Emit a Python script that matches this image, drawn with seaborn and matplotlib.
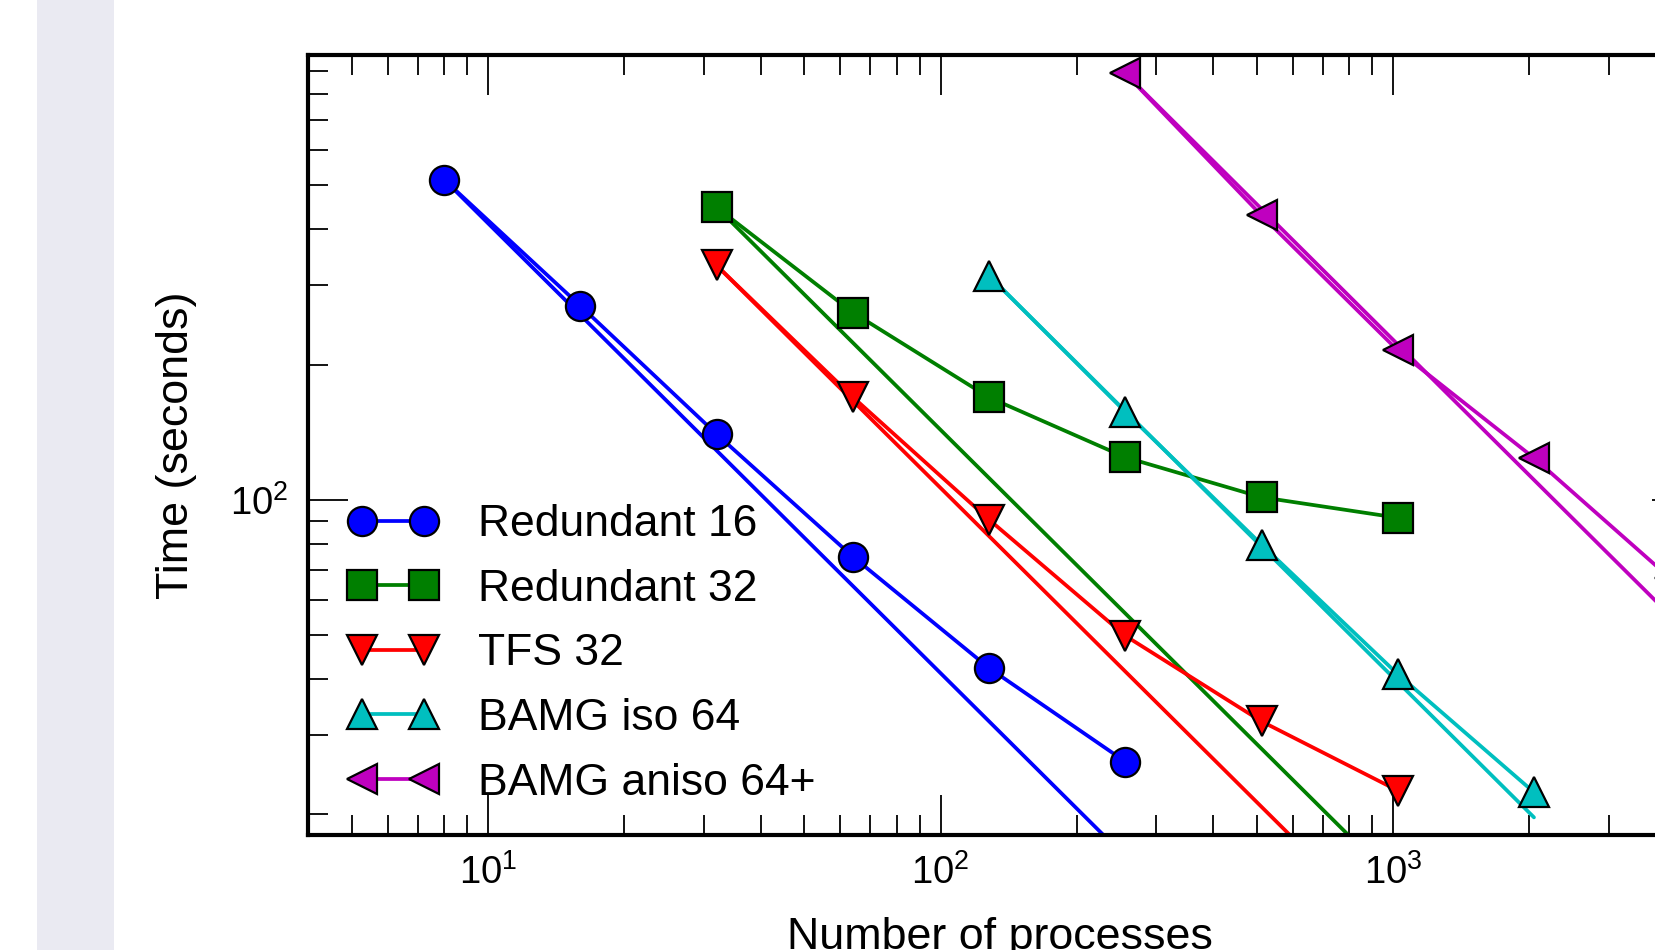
import numpy as np
import pandas as pd
import matplotlib
matplotlib.use("Agg")
import matplotlib.pyplot as plt
from matplotlib.patches import Rectangle
from matplotlib.ticker import LogLocator, NullFormatter
import seaborn as sns

# ---- data ----
x_red16 = [8, 16, 32, 64, 128, 256]
t_red16 = [515, 270, 140, 74.8, 42.3, 26.2]

x_red32 = [32, 64, 128, 256, 512, 1024]
t_red32 = [447, 261, 169, 124.4, 101.4, 91.3]

x_tfs32 = [32, 64, 128, 256, 512, 1024]
t_tfs32 = [332, 169.3, 90.4, 49.9, 32.2, 22.6]

x_iso64 = [128, 256, 512, 1024, 2048]
t_iso64 = [315, 157, 79.6, 41.0, 22.4]

x_aniso = [256, 512, 1024, 2048, 4096]
t_aniso = [887, 429, 215, 124, 67]

# ideal-scaling reference lines: (start x, end x) and (start time, end time)
ideal_red16 = ([8, 256], [515, 16.1])
ideal_red32 = ([32, 1024], [447, 14.0])
ideal_tfs32 = ([32, 1024], [332, 10.4])
ideal_iso64 = ([128, 2048], [315, 19.7])
ideal_aniso = ([256, 4096], [887, 55.4])

labels = ["Redundant 16", "Redundant 32", "TFS 32", "BAMG iso 64", "BAMG aniso 64+"]
colors = ["#0000FF", "#007F00", "#FF0000", "#00BFBF", "#BF00BF"]
markers = ["o", "s", "v", "^", "<"]

series = [(x_red16, t_red16), (x_red32, t_red32), (x_tfs32, t_tfs32),
          (x_iso64, t_iso64), (x_aniso, t_aniso)]
ideals = [ideal_red16, ideal_red32, ideal_tfs32, ideal_iso64, ideal_aniso]

# ---- style ----
sns.set_theme(style="ticks")
plt.rcParams["font.family"] = ["Liberation Sans", "DejaVu Sans"]
plt.rcParams["mathtext.default"] = "regular"
plt.rcParams["text.color"] = "black"
plt.rcParams["axes.labelcolor"] = "black"
plt.rcParams["xtick.color"] = "black"
plt.rcParams["ytick.color"] = "black"

fig = plt.figure(figsize=(16.56, 9.5), dpi=100)
fig.patch.set_facecolor("white")
fig.patches.append(Rectangle((37 / 1656, 0), (114 - 37) / 1656, 1,
                             transform=fig.transFigure, facecolor="#EAEAF2",
                             edgecolor="none", zorder=-10))

ax = fig.add_axes([308 / 1656, 115 / 950, 1384 / 1656, 780 / 950])
ax.set_xscale("log")
ax.set_yscale("log")

# ideal lines first (no markers)
for (ix, iy), c in zip(ideals, colors):
    df = pd.DataFrame({"x": ix, "y": iy})
    sns.lineplot(data=df, x="x", y="y", ax=ax, color=c, lw=2.7,
                 legend=False, sort=False, zorder=2)

# data lines with markers
for (sx, sy), c, m, lab in zip(series, colors, markers, labels):
    df = pd.DataFrame({"x": sx, "y": sy})
    sns.lineplot(data=df, x="x", y="y", ax=ax, color=c, lw=2.7,
                 marker=m, markersize=21, markeredgecolor="black",
                 markeredgewidth=1.6, markerfacecolor=c, label=lab,
                 sort=False, zorder=3)

ax.set_xlim(4, 4577)
ax.set_ylim(18, 975)

ax.xaxis.set_major_locator(LogLocator(base=10))
ax.xaxis.set_minor_locator(LogLocator(base=10, subs=np.arange(2, 10)))
ax.yaxis.set_major_locator(LogLocator(base=10))
ax.yaxis.set_minor_locator(LogLocator(base=10, subs=np.arange(2, 10)))
ax.xaxis.set_minor_formatter(NullFormatter())
ax.yaxis.set_minor_formatter(NullFormatter())

ax.tick_params(which="both", direction="in", top=True, right=True,
               colors="black", labelcolor="black", width=1.3, pad=14,
               labelsize=27.5)
ax.tick_params(which="major", length=28.8)
ax.tick_params(which="minor", length=14.4)

for sp in ax.spines.values():
    sp.set_linewidth(3)
    sp.set_color("black")

ax.set_xlabel("Number of processes", fontsize=32.3, color="black")
ax.set_ylabel("Time (seconds)", fontsize=32.3, color="black")
ax.xaxis.set_label_coords(0.5, -0.105)
ax.yaxis.set_label_coords(-0.080, 0.5)

leg = ax.legend(loc="lower left", bbox_to_anchor=(0.0167, 0.0175), frameon=False,
                numpoints=2, fontsize=32, labelspacing=0.53, handlelength=2.0,
                handletextpad=0.9, borderaxespad=0.0, borderpad=0.4)
for t in leg.get_texts():
    t.set_color("black")

fig.savefig("out.png", dpi=100)
